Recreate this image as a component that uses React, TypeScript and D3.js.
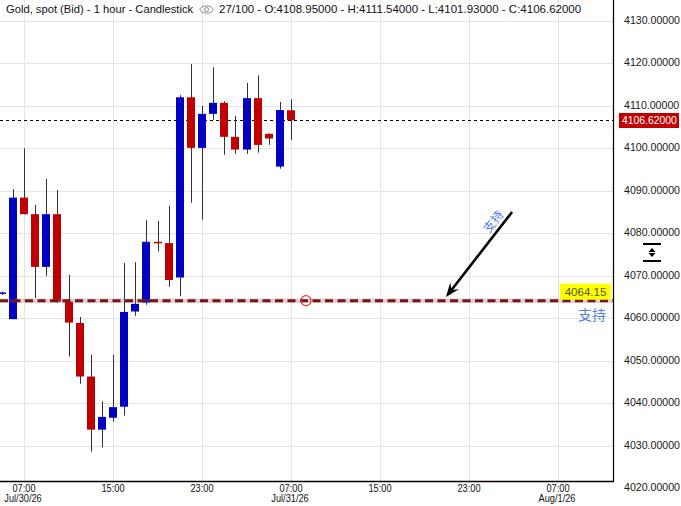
import React from 'react';
import * as d3 from 'd3';

// hours counted from Jul/30/26 00:00
const hours = [5, 6, 7, 8, 9, 10, 11, 12, 13, 14, 15, 16, 17, 18, 19, 20, 21, 22, 23, 24, 25, 26, 27, 28, 29, 30, 31];
const opens = [4066.0, 4059.8, 4088.4, 4084.5, 4072.1, 4084.5, 4063.9, 4058.9, 4046.3, 4033.8, 4036.6, 4039.2, 4061.6, 4063.7, 4078.0, 4077.7, 4069.6, 4112.0, 4100.1, 4108.1, 4110.7, 4102.7, 4099.7, 4111.8, 4103.4, 4095.7, 4108.95];
const highs = [4066.2, 4090.4, 4100.0, 4086.7, 4092.8, 4090.2, 4070.2, 4060.3, 4051.4, 4040.5, 4051.4, 4073.0, 4073.2, 4083.1, 4082.9, 4086.5, 4112.5, 4119.8, 4110.0, 4119.1, 4111.1, 4107.6, 4115.4, 4117.2, 4103.5, 4110.9, 4111.54];
const lows = [4065.5, 4059.8, 4084.4, 4064.8, 4070.0, 4063.6, 4051.0, 4044.6, 4028.6, 4029.6, 4035.7, 4037.1, 4060.6, 4063.2, 4075.7, 4067.4, 4065.2, 4087.2, 4083.2, 4106.7, 4098.5, 4098.7, 4098.7, 4099.0, 4100.8, 4095.2, 4101.93];
const closes = [4066.1, 4088.4, 4084.5, 4072.1, 4084.5, 4063.9, 4059.0, 4046.3, 4033.8, 4036.8, 4039.1, 4061.5, 4063.4, 4078.0, 4077.7, 4069.0, 4112.0, 4100.1, 4108.1, 4110.7, 4102.7, 4099.7, 4111.8, 4100.8, 4102.3, 4109.0, 4106.62];

const priceTicks = [4020, 4030, 4040, 4050, 4060, 4070, 4080, 4090, 4100, 4110, 4120, 4130];
const timeTicks = [7, 15, 23, 31, 39, 47, 55];
const timeLabels = ['07:00', '15:00', '23:00', '07:00', '15:00', '23:00', '07:00'];
const dateLabels = ['Jul/30/26', '', '', 'Jul/31/26', '', '', 'Aug/1/26'];

const titleText = 'Gold, spot (Bid) - 1 hour - Candlestick';
const infoText = '27/100 - O:4108.95000 - H:4111.54000 - L:4101.93000 - C:4106.62000';

const lastPrice = 4106.62;
const supportPrice = 4064.15;
const supportText = '支持';
const arrowFrom = [50.87, 4085.0];
const arrowTo = [44.93, 4065.0];
const markerPoint = [32.35, 4064.15];
const rotatedLabelAt = [49.1, 4083.0];

const W = 681;
const H = 506;
const plotRight = 613;
const plotBottom = 481;

const UP = '#0000c0';
const DOWN = '#c00000';
const WICK = '#2b3535';
const GRID = '#e4e4e4';
const FONT = '"Liberation Sans", Arial, sans-serif';

export default function App() {
  const x = d3.scaleLinear().domain([7, 55]).range([24, 558]);
  const y = d3.scaleLinear().domain([4020, 4130]).range([488.3, 20.8]);
  const fmt = d3.format('.5f');

  const candles = hours.map((h, i) => {
    const o = opens[i], c = closes[i], hi = highs[i], lo = lows[i];
    const left = Math.round(x(h) - 4);
    const top = y(Math.max(o, c));
    const bot = y(Math.min(o, c));
    const bh = Math.max(bot - top, 1.5);
    return (
      <g key={h}>
        <rect x={left + 4} y={y(hi)} width={1} height={y(lo) - y(hi)} fill={WICK} />
        <rect x={left} y={top} width={8} height={bh} fill={c >= o ? UP : DOWN} />
      </g>
    );
  });

  // arrow geometry
  const ax1 = x(arrowFrom[0]), ay1 = y(arrowFrom[1]);
  const ax2 = x(arrowTo[0]), ay2 = y(arrowTo[1]);
  const ang = Math.atan2(ay2 - ay1, ax2 - ax1);
  const ux = Math.cos(ang), uy = Math.sin(ang);
  const px = -uy, py = ux;
  const headLen = 14, headW = 5.5, notch = 9;
  const head = [
    [ax2, ay2],
    [ax2 - ux * headLen + px * headW, ay2 - uy * headLen + py * headW],
    [ax2 - ux * notch, ay2 - uy * notch],
    [ax2 - ux * headLen - px * headW, ay2 - uy * headLen - py * headW],
  ];
  const rotDeg = (Math.atan2(ay1 - ay2, ax1 - ax2) * 180) / Math.PI;

  const ySup = y(supportPrice);
  const yLast = Math.round(y(lastPrice)) + 0.5;

  return (
    <svg width={W} height={H} style={{ position: 'absolute', left: 0, top: 0, display: 'block', background: '#fff' }}>
      <defs>
        <clipPath id="plot">
          <rect x={0} y={0} width={plotRight} height={plotBottom} />
        </clipPath>
      </defs>
      <rect x={0} y={0} width={W} height={H} fill="#fff" />
      <g clipPath="url(#plot)">
        {priceTicks.map((p) => (
          <line key={p} x1={0} x2={plotRight} y1={Math.round(y(p)) + 0.5} y2={Math.round(y(p)) + 0.5} stroke={GRID} strokeWidth={1} />
        ))}
        {timeTicks.map((t) => (
          <line key={t} x1={Math.round(x(t)) + 0.5} x2={Math.round(x(t)) + 0.5} y1={0} y2={plotBottom} stroke={GRID} strokeWidth={1} />
        ))}
        <line x1={0} x2={plotRight} y1={yLast} y2={yLast} stroke="#000" strokeWidth={1} strokeDasharray="3,3" />
        {candles}
        <line x1={0} x2={plotRight} y1={ySup} y2={ySup} stroke="rgba(150,90,90,0.28)" strokeWidth={4.5} />
        <line x1={0} x2={plotRight} y1={ySup} y2={ySup} stroke="#7a1414" strokeWidth={3} strokeDasharray="8,4.5" />
        <circle cx={x(markerPoint[0])} cy={y(markerPoint[1])} r={5} fill="none" stroke="#e53030" strokeWidth={1.2} />
        <line x1={ax1} y1={ay1} x2={ax2 - ux * notch} y2={ay2 - uy * notch} stroke="#000" strokeWidth={2.6} />
        <path d={d3.line()(head as [number, number][]) + 'Z'} fill="#000" />
        <text
          transform={`translate(${x(rotatedLabelAt[0])},${y(rotatedLabelAt[1])}) rotate(${rotDeg})`}
          textAnchor="middle"
          dominantBaseline="central"
          fontFamily='"Noto Sans CJK SC", sans-serif'
          fontSize={12}
          fill="#4f7fe8"
        >
          {supportText}
        </text>
        <rect x={560} y={ySup - 17} width={51} height={16} fill="#ffff00" />
        <text x={585.5} y={ySup - 5} textAnchor="middle" fontFamily={FONT} fontSize={11.5} fill="#4d5a10">
          {supportPrice.toFixed(2)}
        </text>
        <text x={592} y={ySup + 13} textAnchor="middle" dominantBaseline="central" fontFamily='"Noto Sans CJK SC", sans-serif' fontSize={14} fill="#4f7fe8">
          {supportText}
        </text>
      </g>

      {/* header */}
      <text x={6} y={13} fontFamily={FONT} fontSize={11.2} fill="#111">{titleText}</text>
      <g stroke="#8a8a8a" fill="none" strokeWidth={1}>
        <ellipse cx={206.5} cy={9.5} rx={6.5} ry={3.6} />
        <circle cx={206.5} cy={9.5} r={2} />
      </g>
      <text x={219} y={13} fontFamily={FONT} fontSize={11.5} fill="#111">{infoText}</text>

      {/* axes */}
      <line x1={plotRight + 0.5} x2={plotRight + 0.5} y1={0} y2={plotBottom + 1} stroke="#000" strokeWidth={1.2} />
      <line x1={0} x2={plotRight + 1} y1={plotBottom + 0.5} y2={plotBottom + 0.5} stroke="#000" strokeWidth={1.5} />
      {priceTicks.map((p) => (
        <text key={p} x={624} y={y(p) - 1} dominantBaseline="central" fontFamily={FONT} fontSize={10.6} fill="#1a1a1a">
          {fmt(p)}
        </text>
      ))}
      <rect x={619} y={yLast - 7.5} width={60} height={15} fill={DOWN} />
      <text x={622} y={yLast} dominantBaseline="central" fontFamily={FONT} fontSize={10.4} fill="#fff">
        {fmt(lastPrice)}
      </text>
      {timeTicks.map((t, i) => (
        <g key={t}>
          <text transform={`translate(${x(t)},491.5) scale(0.84,1)`} textAnchor="middle" fontFamily={FONT} fontSize={11} fill="#111">{timeLabels[i]}</text>
          {dateLabels[i] && (
            <text transform={`translate(${x(t) - 1},502) scale(0.84,1)`} textAnchor="middle" fontFamily={FONT} fontSize={11} fill="#111">{dateLabels[i]}</text>
          )}
        </g>
      ))}

      {/* scale toggle icon */}
      <g>
        <line x1={643} x2={661} y1={244} y2={244} stroke="#000" strokeWidth={2} />
        <line x1={643} x2={661} y1={261} y2={261} stroke="#000" strokeWidth={2} />
        <path d="M652,248 L655.5,252 L648.5,252 Z" fill="#000" />
        <path d="M652,257 L655.5,253 L648.5,253 Z" fill="#000" />
      </g>
    </svg>
  );
}
